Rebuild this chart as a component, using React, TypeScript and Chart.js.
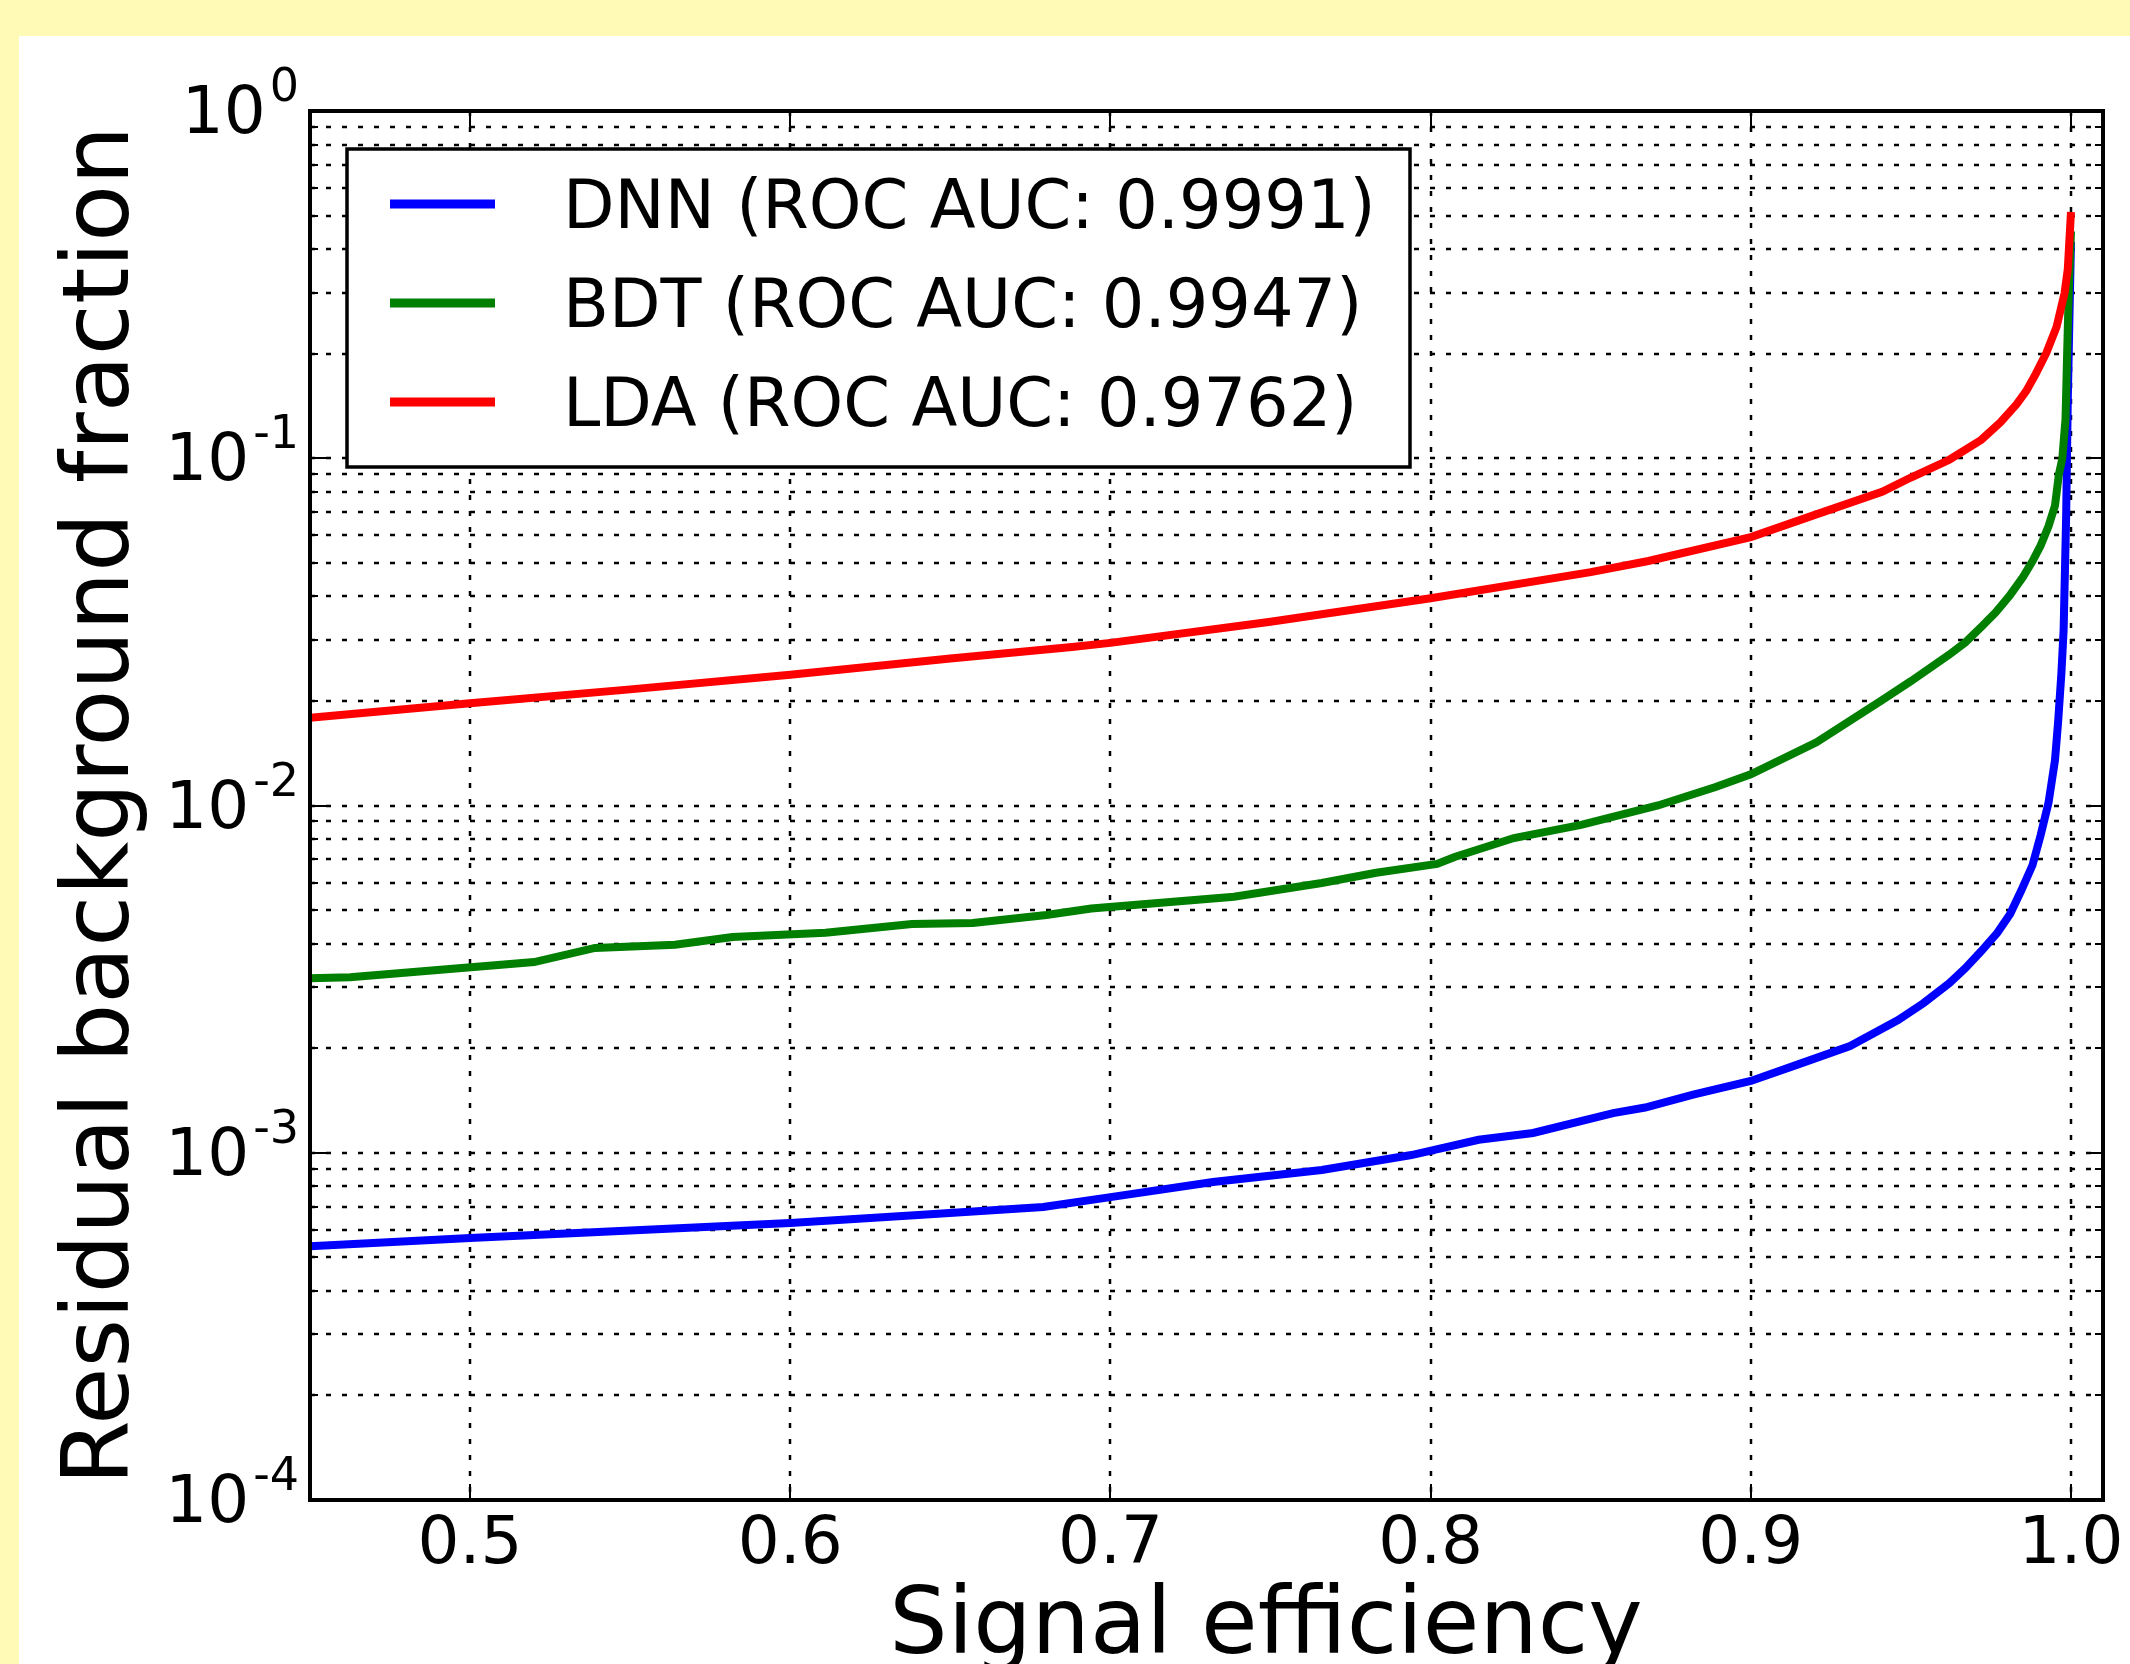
import React, { useEffect, useRef } from "react";
import { Chart, registerables } from "chart.js";

Chart.register(...registerables);

// ---- data ----
const SERIES_LABELS = ["DNN (ROC AUC: 0.9991)", "BDT (ROC AUC: 0.9947)", "LDA (ROC AUC: 0.9762)"];
const SERIES_COLORS = ["#0000ff", "#007f00", "#ff0000"];

const DNN_EFF = [0.45, 0.5, 0.6, 0.64, 0.679, 0.7, 0.732, 0.766, 0.794, 0.815, 0.832, 0.857, 0.867, 0.882, 0.9, 0.915, 0.931, 0.946, 0.954, 0.962, 0.967, 0.972, 0.977, 0.981, 0.9845, 0.988, 0.9905, 0.993, 0.995, 0.996, 0.997, 0.9977, 0.9985, 0.999, 0.9995, 1.0];
const DNN_BKG = [0.000538, 0.000568, 0.000628, 0.000662, 0.000698, 0.000745, 0.000824, 0.000892, 0.000985, 0.00109, 0.00114, 0.0013, 0.00135, 0.00147, 0.00161, 0.0018, 0.00203, 0.00241, 0.0027, 0.00308, 0.0034, 0.00381, 0.0043, 0.00487, 0.0057, 0.00674, 0.0082, 0.0102, 0.0135, 0.0175, 0.024, 0.032, 0.0687, 0.147, 0.25, 0.42];

const BDT_EFF = [0.45, 0.4625, 0.52, 0.539, 0.564, 0.582, 0.611, 0.638, 0.657, 0.68, 0.694, 0.7386, 0.766, 0.783, 0.802, 0.8075, 0.826, 0.847, 0.871, 0.889, 0.9, 0.9205, 0.941, 0.95, 0.962, 0.967, 0.972, 0.9765, 0.981, 0.985, 0.988, 0.9905, 0.993, 0.995, 0.9962, 0.9973, 0.9983, 0.9988, 0.9993, 1.0];
const BDT_BKG = [0.00318, 0.0032, 0.00354, 0.00389, 0.00397, 0.00418, 0.0043, 0.00456, 0.00459, 0.00484, 0.00505, 0.00546, 0.00598, 0.0064, 0.00679, 0.00711, 0.00806, 0.00879, 0.01, 0.0113, 0.0123, 0.0152, 0.0201, 0.0228, 0.0272, 0.0295, 0.0327, 0.036, 0.0404, 0.0455, 0.0506, 0.056, 0.0638, 0.073, 0.0895, 0.1, 0.13, 0.2, 0.3, 0.45];

const LDA_EFF = [0.45, 0.5, 0.55, 0.6, 0.65, 0.688, 0.7, 0.75, 0.8, 0.85, 0.868, 0.9, 0.92, 0.941, 0.95, 0.962, 0.972, 0.978, 0.983, 0.986, 0.989, 0.9923, 0.9955, 0.998, 0.999, 1.0];
const LDA_BKG = [0.0179, 0.0197, 0.0216, 0.0238, 0.0265, 0.0286, 0.0294, 0.0338, 0.0395, 0.047, 0.0506, 0.0593, 0.0687, 0.080, 0.088, 0.099, 0.113, 0.127, 0.143, 0.156, 0.175, 0.201, 0.239, 0.299, 0.35, 0.512];

const X_TICKS = [0.5, 0.6, 0.7, 0.8, 0.9, 1.0];
const X_TICK_LABELS = ["0.5", "0.6", "0.7", "0.8", "0.9", "1.0"];
const Y_DECADES = [-4, -3, -2, -1, 0];
const Y_MINOR_MULTS = [2, 3, 4, 5, 6, 7, 8, 9];
const X_TITLE = "Signal efficiency";
const Y_TITLE = "Residual background fraction";

const FONT = "'DejaVu Sans', 'Liberation Sans', sans-serif";
const YELLOW = "rgb(255,250,181)";

const toPts = (xs: number[], ys: number[]) => xs.map((x, i) => ({ x, y: ys[i] }));

const decorPlugin = {
  id: "decor",
  beforeDraw(chart: any) {
    const ctx = chart.ctx;
    ctx.save();
    ctx.fillStyle = YELLOW;
    ctx.fillRect(0, 0, chart.width, chart.height);
    ctx.fillStyle = "#ffffff";
    ctx.fillRect(19, 36, chart.width - 19, chart.height - 36);
    ctx.restore();
  },
  beforeDatasetsDraw(chart: any) {
    const ctx = chart.ctx;
    const { left, right, top, bottom } = chart.chartArea;
    const xs = chart.scales.x;
    const ys = chart.scales.y;
    ctx.save();
    ctx.strokeStyle = "#000";
    ctx.lineWidth = 2.5;
    ctx.setLineDash([5, 11]);
    const yVals: number[] = [];
    Y_DECADES.forEach((d) => {
      yVals.push(Math.pow(10, d));
      if (d < 0) Y_MINOR_MULTS.forEach((m) => yVals.push(m * Math.pow(10, d)));
    });
    yVals.forEach((v) => {
      const y = Math.round(ys.getPixelForValue(v));
      ctx.beginPath();
      ctx.moveTo(left, y);
      ctx.lineTo(right, y);
      ctx.stroke();
    });
    X_TICKS.forEach((v) => {
      const x = Math.round(xs.getPixelForValue(v));
      ctx.beginPath();
      ctx.moveTo(x, top);
      ctx.lineTo(x, bottom);
      ctx.stroke();
    });
    ctx.restore();
  },
  afterDatasetsDraw(chart: any) {
    const ctx = chart.ctx;
    const { left, right, top, bottom } = chart.chartArea;
    const xs = chart.scales.x;
    const ys = chart.scales.y;
    ctx.save();
    ctx.setLineDash([]);
    ctx.strokeStyle = "#000";
    ctx.fillStyle = "#000";

    // ticks
    ctx.lineWidth = 2;
    const MAJ = 16, MIN = 8;
    X_TICKS.forEach((v) => {
      const x = Math.round(xs.getPixelForValue(v));
      ctx.beginPath();
      ctx.moveTo(x, bottom); ctx.lineTo(x, bottom - MAJ);
      ctx.moveTo(x, top); ctx.lineTo(x, top + MAJ);
      ctx.stroke();
    });
    Y_DECADES.forEach((d) => {
      const y = Math.round(ys.getPixelForValue(Math.pow(10, d)));
      ctx.beginPath();
      ctx.moveTo(left, y); ctx.lineTo(left + MAJ, y);
      ctx.moveTo(right, y); ctx.lineTo(right - MAJ, y);
      ctx.stroke();
      if (d < 0) {
        Y_MINOR_MULTS.forEach((m) => {
          const ym = Math.round(ys.getPixelForValue(m * Math.pow(10, d)));
          ctx.beginPath();
          ctx.moveTo(left, ym); ctx.lineTo(left + MIN, ym);
          ctx.moveTo(right, ym); ctx.lineTo(right - MIN, ym);
          ctx.stroke();
        });
      }
    });

    // frame
    ctx.lineWidth = 4;
    ctx.strokeRect(left, top, right - left, bottom - top);

    // x tick labels
    ctx.font = `66px ${FONT}`;
    ctx.textAlign = "center";
    ctx.textBaseline = "alphabetic";
    X_TICKS.forEach((v, i) => {
      const x = xs.getPixelForValue(v);
      ctx.fillText(X_TICK_LABELS[i], x, bottom + 63);
    });

    // y tick labels 10^n
    const R = 299;
    Y_DECADES.forEach((d) => {
      const y = ys.getPixelForValue(Math.pow(10, d));
      const sup = String(d);
      ctx.textAlign = "right";
      ctx.font = `46px ${FONT}`;
      const w = ctx.measureText(sup).width;
      ctx.fillText(sup, R, y - 10);
      ctx.font = `66px ${FONT}`;
      ctx.fillText("10", R - w - 4, y + 22);
    });

    // axis titles
    ctx.font = `92px ${FONT}`;
    ctx.textAlign = "center";
    ctx.fillText(X_TITLE, 1266, 1653);
    ctx.save();
    ctx.translate(128, (top + bottom) / 2);
    ctx.rotate(-Math.PI / 2);
    ctx.font = `93px ${FONT}`;
    ctx.fillText(Y_TITLE, 0, 0);
    ctx.restore();

    // legend
    const lx = 347, ly = 149, lw = 1410 - 347, lh = 467 - 149;
    ctx.fillStyle = "#fff";
    ctx.fillRect(lx, ly, lw, lh);
    ctx.lineWidth = 3.5;
    ctx.strokeStyle = "#000";
    ctx.strokeRect(lx, ly, lw, lh);
    ctx.font = `67px ${FONT}`;
    ctx.textAlign = "left";
    chart.data.datasets.forEach((ds: any, i: number) => {
      const yy = ly + 55 + i * 99;
      ctx.strokeStyle = ds.borderColor;
      ctx.lineWidth = 9;
      ctx.beginPath();
      ctx.moveTo(390, yy);
      ctx.lineTo(495, yy);
      ctx.stroke();
      ctx.fillStyle = "#000";
      ctx.fillText(ds.label, 563, yy + 24);
    });
    ctx.restore();
  },
};

export default function App() {
  const canvasRef = useRef<HTMLCanvasElement | null>(null);

  useEffect(() => {
    document.body.style.margin = "0";
    const canvas = canvasRef.current;
    if (!canvas) return;
    const series = [toPts(DNN_EFF, DNN_BKG), toPts(BDT_EFF, BDT_BKG), toPts(LDA_EFF, LDA_BKG)];
    const chart = new Chart(canvas, {
      type: "line",
      data: {
        datasets: series.map((pts, i) => ({
          label: SERIES_LABELS[i],
          data: pts,
          borderColor: SERIES_COLORS[i],
          backgroundColor: SERIES_COLORS[i],
          borderWidth: 8,
          pointRadius: 0,
          tension: 0,
          fill: false,
          order: 3 - i,
        })),
      },
      options: {
        animation: false,
        responsive: false,
        devicePixelRatio: 1,
        layout: { padding: { left: 310, top: 111, right: 27, bottom: 164 } },
        plugins: { legend: { display: false }, tooltip: { enabled: false }, title: { display: false } },
        scales: {
          x: { type: "linear", min: 0.45, max: 1.01, display: false },
          y: { type: "logarithmic", min: 1e-4, max: 1, display: false },
        },
      },
      plugins: [decorPlugin],
    });
    return () => chart.destroy();
  }, []);

  return (
    <div style={{ position: "fixed", left: 0, top: 0, width: 2130, height: 1664, background: YELLOW }}>
      <canvas ref={canvasRef} width={2130} height={1664} style={{ display: "block", width: 2130, height: 1664 }} />
    </div>
  );
}
